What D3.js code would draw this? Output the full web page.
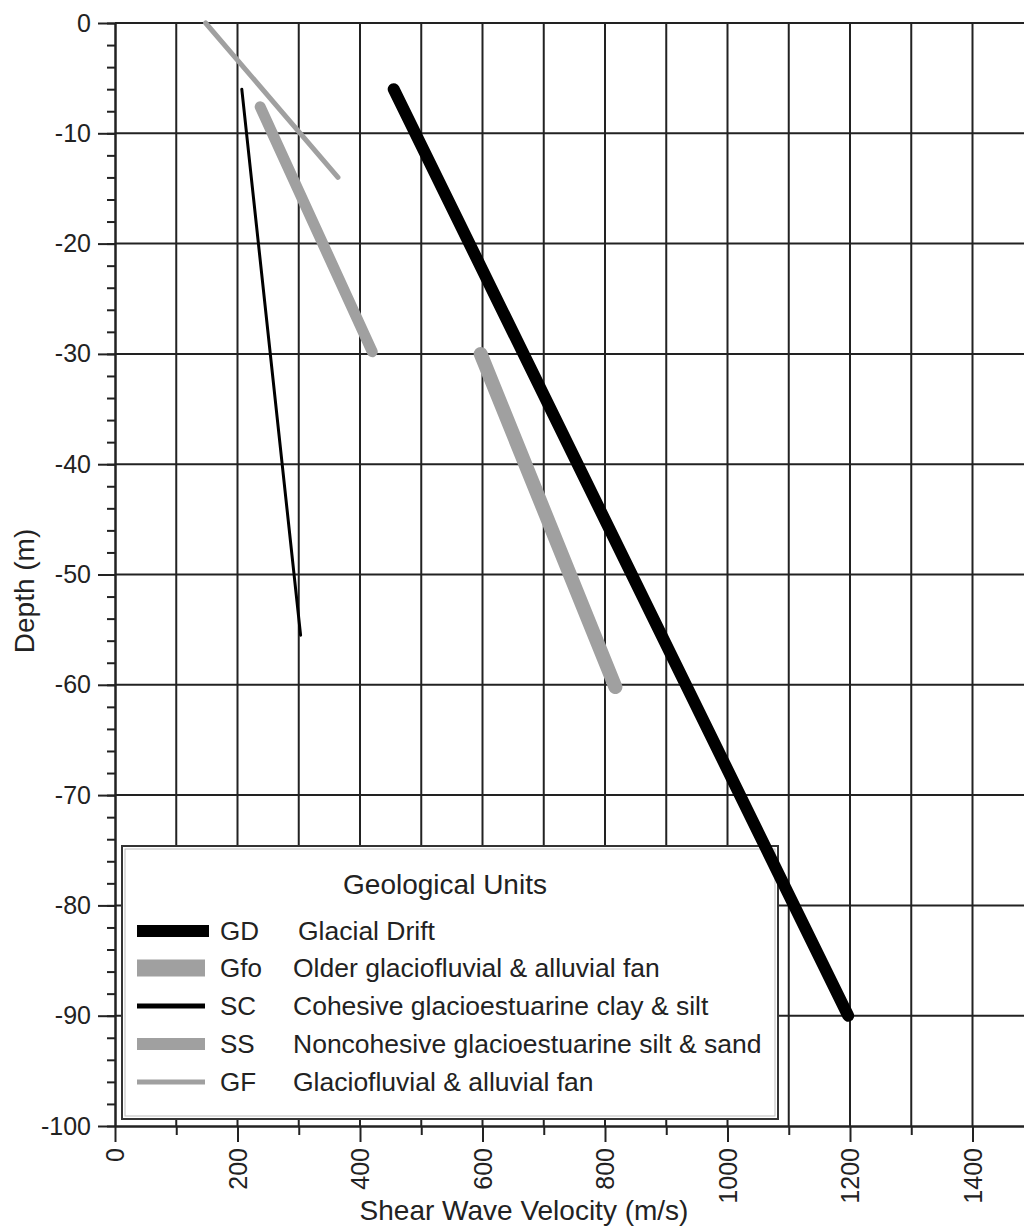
<!DOCTYPE html>
<html>
<head>
<meta charset="utf-8">
<script src="https://cdn.jsdelivr.net/npm/d3@7"></script>
<style>
  body { margin: 0; background: #fff; }
  svg { display: block; font-family: "Liberation Sans", Arial, sans-serif; }
</style>
</head>
<body>
<svg id="chart" width="1024" height="1228"></svg>
<script>
// ---- data ----
var unitCodes = ["GD", "Gfo", "SC", "SS", "GF"];
var unitNames = ["Glacial Drift", "Older glaciofluvial & alluvial fan",
                 "Cohesive glacioestuarine clay & silt",
                 "Noncohesive glacioestuarine silt & sand",
                 "Glaciofluvial & alluvial fan"];
// velocity (m/s) at top / bottom of each trend line
var velTop    = [455, 597, 207, 237, 148];
var velBottom = [1197, 817, 303, 420, 364];
// depth (m) at top / bottom
var depthTop    = [-6, -30, -6, -7.6, 0];
var depthBottom = [-90, -60.2, -55.5, -29.8, -14];

var xTicks = [0, 200, 400, 600, 800, 1000, 1200, 1400];
var yTicks = [0, -10, -20, -30, -40, -50, -60, -70, -80, -90, -100];

// ---- styles ----
var unitColor = ["#000", "#a0a0a0", "#000", "#a0a0a0", "#a0a0a0"];
var unitWidth = [12, 14, 3, 11, 5];
var swatchHeight = [12, 17, 5, 12, 5];
var ink = "#222";

var svg = d3.select("#chart");
var plotLeft = 115, plotTop = 23, plotBottom = 1126;

var x = d3.scaleLinear().domain([0, 1500]).range([plotLeft, plotLeft + 15 * 61.25]);
var y = d3.scaleLinear().domain([0, -100]).range([plotTop, plotBottom]);

// grid
var grid = svg.append("g").attr("stroke", ink).attr("stroke-width", 2);
grid.selectAll("line.v")
    .data(d3.range(100, 1501, 100))
    .enter().append("line")
    .attr("x1", function(d) { return x(d); }).attr("x2", function(d) { return x(d); })
    .attr("y1", plotTop).attr("y2", plotBottom);
grid.selectAll("line.h")
    .data(d3.range(0, -91, -10))
    .enter().append("line")
    .attr("y1", function(d) { return y(d); }).attr("y2", function(d) { return y(d); })
    .attr("x1", plotLeft).attr("x2", 1024);

// axes
function styleAxis(g) {
    g.select(".domain").attr("stroke", ink).attr("stroke-width", 2);
    g.selectAll(".tick line").attr("stroke", ink).attr("stroke-width", 2);
    g.selectAll(".tick text").attr("fill", "#222").attr("font-size", 25);
}

var yMinor = svg.append("g").attr("transform", "translate(" + plotLeft + ",0)")
    .call(d3.axisLeft(y).tickValues(d3.range(0, -101, -2)).tickSize(8).tickFormat("").tickSizeOuter(0));
styleAxis(yMinor);
var yMajor = svg.append("g").attr("transform", "translate(" + plotLeft + ",0)")
    .call(d3.axisLeft(y).tickValues(yTicks).tickSize(17).tickPadding(7).tickSizeOuter(0)
          .tickFormat(function(d) { return d === 0 ? "0" : "-" + Math.abs(d); }));
styleAxis(yMajor);

var xMinor = svg.append("g").attr("transform", "translate(0," + plotBottom + ")")
    .call(d3.axisBottom(x).tickValues(d3.range(100, 1500, 200)).tickSize(9).tickFormat("").tickSizeOuter(0));
styleAxis(xMinor);
var xMajor = svg.append("g").attr("transform", "translate(0," + plotBottom + ")")
    .call(d3.axisBottom(x).tickValues(xTicks).tickSize(16).tickSizeOuter(0).tickFormat(d3.format("d")));
styleAxis(xMajor);
xMajor.selectAll(".tick text")
    .attr("transform", "rotate(-90)")
    .attr("text-anchor", "end")
    .attr("x", -22).attr("y", 0).attr("dy", "0.35em");

// axis titles
svg.append("text")
    .attr("x", 524).attr("y", 1220)
    .attr("text-anchor", "middle").attr("font-size", 28).attr("fill", "#222")
    .text("Shear Wave Velocity (m/s)");
svg.append("text")
    .attr("transform", "translate(34,591) rotate(-90)")
    .attr("text-anchor", "middle").attr("font-size", 28).attr("fill", "#222")
    .text("Depth (m)");

// legend (drawn under the trend lines, GD runs over its corner)
var lg = svg.append("g");
lg.append("rect")
    .attr("x", 122).attr("y", 846).attr("width", 656).attr("height", 273)
    .attr("fill", "#fff").attr("stroke", "#333").attr("stroke-width", 2);
lg.append("rect")
    .attr("x", 125).attr("y", 849).attr("width", 650).attr("height", 267)
    .attr("fill", "none").attr("stroke", "#bbb").attr("stroke-width", 1);
lg.append("text")
    .attr("x", 445).attr("y", 894)
    .attr("text-anchor", "middle").attr("font-size", 28).attr("fill", "#222")
    .text("Geological Units");
var rowY = [931, 968, 1006, 1044, 1082];
unitCodes.forEach(function(code, i) {
    lg.append("rect")
        .attr("x", 137).attr("y", rowY[i] - swatchHeight[i] / 2)
        .attr("width", i === 0 ? 72 : 68).attr("height", swatchHeight[i])
        .attr("fill", unitColor[i]);
    lg.append("text")
        .attr("x", 220).attr("y", rowY[i] + 9)
        .attr("font-size", 26).attr("fill", "#222")
        .text(code);
    lg.append("text")
        .attr("x", i === 0 ? 298 : 293).attr("y", rowY[i] + 9)
        .attr("font-size", 26.5).attr("fill", "#222")
        .text(unitNames[i]);
});

// trend lines
var lines = svg.append("g");
unitCodes.forEach(function(code, i) {
    lines.append("line")
        .attr("x1", x(velTop[i])).attr("y1", y(depthTop[i]))
        .attr("x2", x(velBottom[i])).attr("y2", y(depthBottom[i]))
        .attr("stroke", unitColor[i])
        .attr("stroke-width", unitWidth[i])
        .attr("stroke-linecap", "round");
});
</script>
</body>
</html>
